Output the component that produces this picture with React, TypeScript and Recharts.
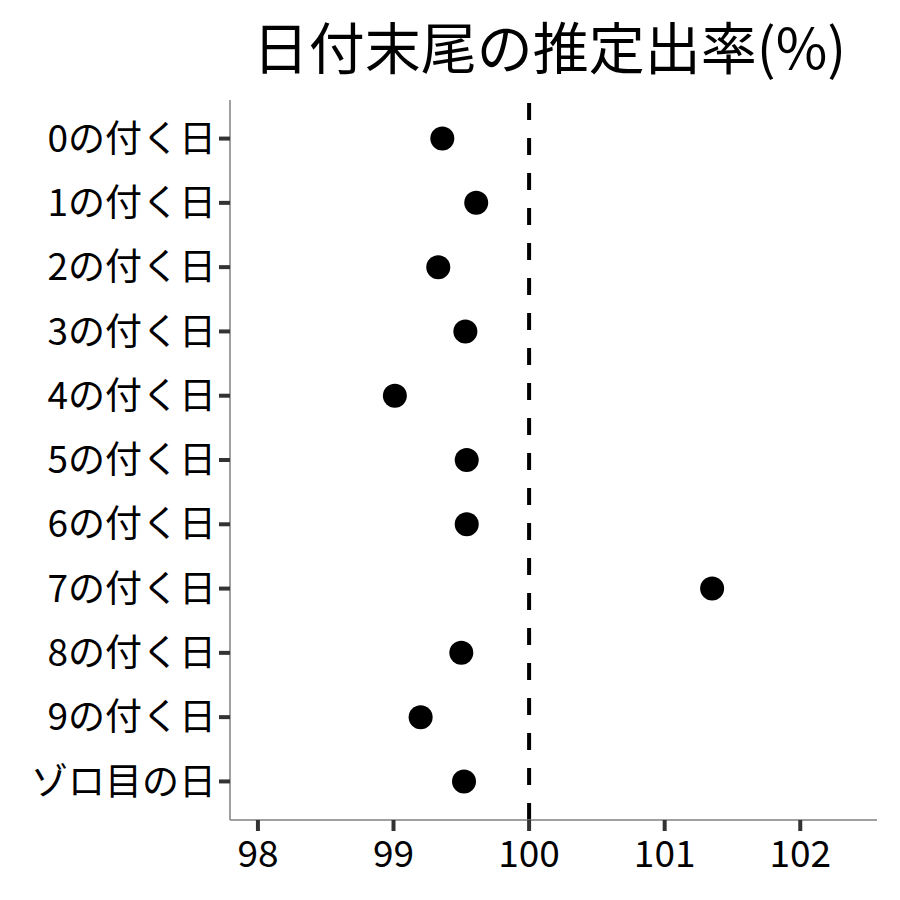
import React from "react";
import { ScatterChart, Scatter, XAxis, YAxis, ReferenceLine } from "recharts";

const categories = [
  "0の付く日",
  "1の付く日",
  "2の付く日",
  "3の付く日",
  "4の付く日",
  "5の付く日",
  "6の付く日",
  "7の付く日",
  "8の付く日",
  "9の付く日",
  "ゾロ目の日",
];
const rates = [99.36, 99.61, 99.33, 99.53, 99.01, 99.54, 99.54, 101.35, 99.5, 99.2, 99.52];
const xTicks = [98, 99, 100, 101, 102];
const refValue = 100;
const title = "日付末尾の推定出率(%)";

const data = categories.map((c, i) => ({ name: c, pos: i + 1, rate: rates[i] }));
const yTicks = categories.map((_, i) => i + 1);

const FONT = '"Noto Sans CJK JP", "Noto Sans", sans-serif';

const Dot = (props: any) => <circle cx={props.cx} cy={props.cy} r={12} fill="#000" />;

export default function App() {
  return (
    <div style={{ position: "absolute", left: 0, top: 0, width: 900, height: 900, background: "#fff", fontFamily: FONT }}>
      <div
        style={{
          position: "absolute",
          left: 226,
          width: 647,
          top: 7,
          textAlign: "center",
          fontSize: 56,
          lineHeight: "76px",
          color: "#000",
          fontFamily: FONT,
        }}
      >
        {title}
      </div>
      <ScatterChart width={900} height={900} margin={{ top: 100, right: 23, left: 0, bottom: 0 }}>
        <XAxis
          type="number"
          dataKey="rate"
          domain={[97.794, 102.566]}
          ticks={xTicks}
          allowDataOverflow
          height={80}
          tickSize={11}
          tickMargin={10}
          axisLine={{ stroke: "#808080", strokeWidth: 1.5 }}
          tickLine={{ stroke: "#333", strokeWidth: 4 }}
          tick={{ fill: "#000", fontSize: 37, fontFamily: FONT }}
        />
        <YAxis
          type="number"
          dataKey="pos"
          domain={[0.4, 11.6]}
          ticks={yTicks}
          reversed
          allowDataOverflow
          interval={0}
          width={230}
          tickSize={11}
          tickMargin={3}
          tickFormatter={(v: number) => categories[v - 1]}
          axisLine={{ stroke: "#808080", strokeWidth: 1.5 }}
          tickLine={{ stroke: "#333", strokeWidth: 4 }}
          tick={{ fill: "#000", fontSize: 37, fontFamily: FONT }}
        />
        <ReferenceLine x={refValue} stroke="#000" strokeWidth={4} strokeDasharray="17 18" />
        <Scatter data={data} shape={Dot} isAnimationActive={false} />
      </ScatterChart>
    </div>
  );
}
